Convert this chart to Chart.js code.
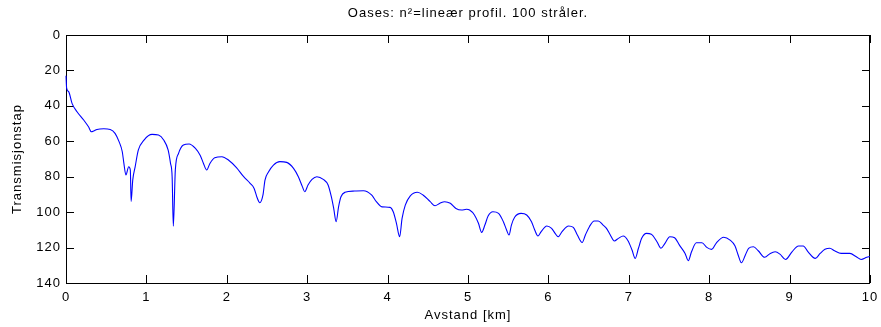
<!DOCTYPE html>
<html>
<head>
<meta charset="utf-8">
<script src="https://cdn.jsdelivr.net/npm/chart.js@4.4.1/dist/chart.umd.min.js"></script>
<style>
  html, body { margin: 0; padding: 0; background: #fff; }
  #wrap { width: 881px; height: 327px; }
</style>
</head>
<body>
<div id="wrap"><canvas id="c" width="881" height="327"></canvas></div>
<script>
// Range in km
const distanceKm = [
  0, 0.008, 0.033, 0.075, 0.137, 0.22, 0.28, 0.315, 0.344, 0.385, 0.47, 0.55, 0.61, 0.66, 0.70, 0.72, 0.745, 0.78, 0.80, 0.81,
  0.83, 0.86, 0.90, 0.97, 1.07, 1.15, 1.215, 1.27, 1.30, 1.32, 1.335, 1.36, 1.40, 1.46, 1.53, 1.61, 1.67, 1.71, 1.75, 1.79,
  1.85, 1.94, 2.02, 2.12, 2.21, 2.29, 2.34, 2.38, 2.41, 2.45, 2.475, 2.52, 2.58, 2.66, 2.745, 2.83, 2.89, 2.94, 2.97, 3.01,
  3.06, 3.12, 3.20, 3.26, 3.30, 3.33, 3.36, 3.39, 3.42, 3.47, 3.59, 3.70, 3.80, 3.86, 3.93, 4.03, 4.07, 4.11, 4.15, 4.18,
  4.22, 4.28, 4.37, 4.44, 4.53, 4.59, 4.65, 4.71, 4.78, 4.85, 4.92, 4.98, 5.02, 5.08, 5.13, 5.17, 5.21, 5.25, 5.31, 5.38,
  5.44, 5.48, 5.51, 5.54, 5.58, 5.66, 5.73, 5.79, 5.83, 5.87, 5.91, 5.98, 6.04, 6.09, 6.12, 6.17, 6.25, 6.31, 6.36, 6.42,
  6.46, 6.51, 6.57, 6.62, 6.68, 6.72, 6.77, 6.82, 6.87, 6.93, 6.99, 7.04, 7.08, 7.12, 7.16, 7.22, 7.28, 7.35, 7.40, 7.45,
  7.51, 7.57, 7.63, 7.70, 7.74, 7.78, 7.84, 7.91, 7.97, 8.03, 8.09, 8.18, 8.26, 8.32, 8.36, 8.40, 8.45, 8.49, 8.55, 8.61,
  8.69, 8.76, 8.82, 8.88, 8.95, 9.03, 9.11, 9.17, 9.23, 9.32, 9.38, 9.44, 9.50, 9.56, 9.64, 9.75, 9.83, 9.89, 9.96, 10
];

// Transmission loss
const lossDb = [
  23, 30, 32, 38.6, 43.3, 48, 51.8, 54.6, 54.2, 53.3, 52.9, 53.3, 55.5, 60.2, 65.9, 72.5, 79, 74.4, 76.2, 94,
  81.9, 74.4, 64.9, 59.3, 56.1, 56.5, 59.3, 64.9, 72.5, 80, 108, 76, 66.8, 62.1, 61.5, 64, 68, 72.5, 76.2, 72.5,
  69.3, 68.7, 70.6, 74.9, 80, 83.7, 86.6, 92.2, 94.7, 90.3, 81.9, 77.2, 73.4, 71.5, 71.9, 75.3, 80, 85.6, 88.5, 84.7,
  81.5, 80, 81.5, 84.7, 91.3, 98, 105.4, 97, 91.3, 88.8, 88.1, 87.9, 90.3, 94.1, 97, 97.3, 99.8, 106.3, 113.9, 103.5,
  96, 90.9, 88.8, 90.3, 94.1, 96.4, 95, 94.1, 95, 97.9, 98.8, 98.4, 98.8, 101.6, 106.3, 111.4, 107.3, 102.2, 99.8, 100.7,
  105.4, 110.1, 112.9, 107.3, 102.9, 100.7, 101.6, 105.4, 110.1, 113.5, 111, 107.8, 109.2, 112.4, 113.9, 111, 107.8, 108.6, 112.9, 117.1,
  112.9, 108.2, 105, 105, 107.3, 109, 112.9, 116.3, 114.8, 113.5, 116.1, 121.4, 126.1, 120.4, 114.8, 112, 112.5, 116.7, 120.4, 117.6,
  113.9, 114.5, 118.6, 123.3, 127.4, 122.4, 117.3, 117.3, 119.9, 121, 117.3, 114.2, 115.8, 119, 124.2, 128.6, 124.2, 120.4, 119.5, 121.8,
  125.5, 123.3, 122.4, 123.7, 126.7, 122.4, 119.1, 119.1, 122.4, 126.1, 123.3, 121, 120.4, 121.8, 123.3, 123.3, 125.2, 126.7, 125.5, 125
];

const xTicks = [0, 1, 2, 3, 4, 5, 6, 7, 8, 9, 10];
const yTicks = [0, 20, 40, 60, 80, 100, 120, 140];

const points = distanceKm.map((x, i) => ({ x: x, y: lossDb[i] }));

const FONT = "'Liberation Sans', Arial, Helvetica, sans-serif";

// Box around the axes with inward tick marks on all four sides
const axesBox = {
  id: 'axesBox',
  beforeDraw(chart) {
    chart.ctx.letterSpacing = '1px';
  },
  beforeDatasetsDraw(chart) {
    const { ctx, chartArea: a, scales } = chart;
    const len = 8;
    ctx.save();
    ctx.letterSpacing = '0px';
    ctx.strokeStyle = '#000';
    ctx.lineWidth = 1;
    ctx.beginPath();
    ctx.rect(Math.round(a.left) + 0.5, Math.round(a.top) + 0.5,
             Math.round(a.right - a.left) - 1, Math.round(a.bottom - a.top));
    xTicks.forEach(v => {
      const px = Math.round(scales.x.getPixelForValue(v)) + 0.5;
      ctx.moveTo(px, a.bottom); ctx.lineTo(px, a.bottom - len);
      ctx.moveTo(px, a.top); ctx.lineTo(px, a.top + len);
    });
    yTicks.forEach(v => {
      const py = Math.round(scales.y.getPixelForValue(v)) + 0.5;
      ctx.moveTo(a.left, py); ctx.lineTo(a.left + len, py);
      ctx.moveTo(a.right, py); ctx.lineTo(a.right - len, py);
    });
    ctx.stroke();
    ctx.restore();
  }
};

new Chart(document.getElementById('c'), {
  type: 'line',
  data: {
    datasets: [{
      data: points,
      borderColor: '#0000ff',
      borderWidth: 1.1,
      pointRadius: 0,
      fill: false,
      clip: 2,
      cubicInterpolationMode: 'monotone'
    }]
  },
  options: {
    responsive: false,
    animation: false,
    devicePixelRatio: 1,
    layout: { padding: { left: 0, right: 11, top: 0, bottom: 0 } },
    plugins: {
      legend: { display: false },
      tooltip: { enabled: false },
      title: {
        display: true,
        fullSize: false,
        text: 'Oases: n\u00b2=line\u00e6r profil. 100 str\u00e5ler.',
        color: '#000',
        font: { family: FONT, size: 13, weight: 'normal', lineHeight: 1.2 },
        padding: { top: 6, bottom: 13.4 }
      }
    },
    scales: {
      x: {
        type: 'linear',
        min: 0, max: 10,
        afterBuildTicks(scale) { scale.ticks = xTicks.map(v => ({ value: v })); },
        afterFit(scale) { scale.height = 44; scale.paddingLeft = 0; scale.paddingRight = 0; },
        grid: { display: false, drawTicks: false },
        border: { display: false },
        ticks: { color: '#000', font: { family: FONT, size: 13 }, padding: 7, maxRotation: 0 },
        title: {
          display: true, text: 'Avstand [km]', color: '#000',
          font: { family: FONT, size: 13, lineHeight: 1.2 }, padding: { top: 0, bottom: 4 }
        }
      },
      y: {
        type: 'linear',
        reverse: true,
        min: 0, max: 140,
        afterBuildTicks(scale) { scale.ticks = yTicks.map(v => ({ value: v })); },
        afterFit(scale) { scale.width = 66; scale.paddingTop = 0; scale.paddingBottom = 0; },
        grid: { display: false, drawTicks: false },
        border: { display: false },
        ticks: { color: '#000', font: { family: FONT, size: 13 }, padding: 5 },
        title: {
          display: true, text: 'Transmisjonstap', color: '#000',
          font: { family: FONT, size: 13, lineHeight: 1.2 }, padding: { top: 10, bottom: 0 }
        }
      }
    }
  },
  plugins: [axesBox]
});
</script>
</body>
</html>
